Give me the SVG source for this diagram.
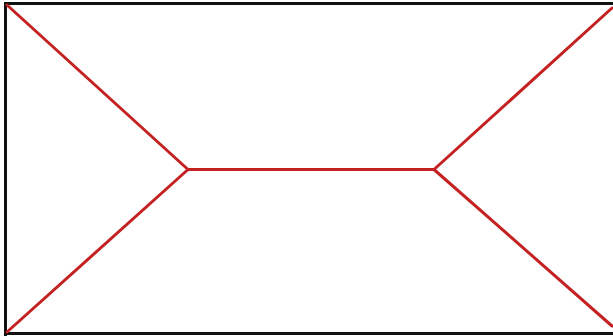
<svg xmlns="http://www.w3.org/2000/svg" width="613" height="336" viewBox="0 0 613 336">
<style>
.frame{fill:none;stroke:#111;stroke-width:3}
.red{fill:none;stroke:#c42222;stroke-width:3;stroke-linecap:round;stroke-linejoin:round}
</style>
<rect width="613" height="336" fill="#fff"/>
<g id="frame"><path class="frame" d="M5.5,336 V3.5 H613 M5.5,333.5 H613"/></g>
<g id="connectors">
<path class="red" d="M7,5 L188,169.5 L434,169.5 L612,8"/>
<path class="red" d="M7,332 L188,169.5"/>
<path class="red" d="M434,169.5 L612,326"/>
</g>
</svg>
